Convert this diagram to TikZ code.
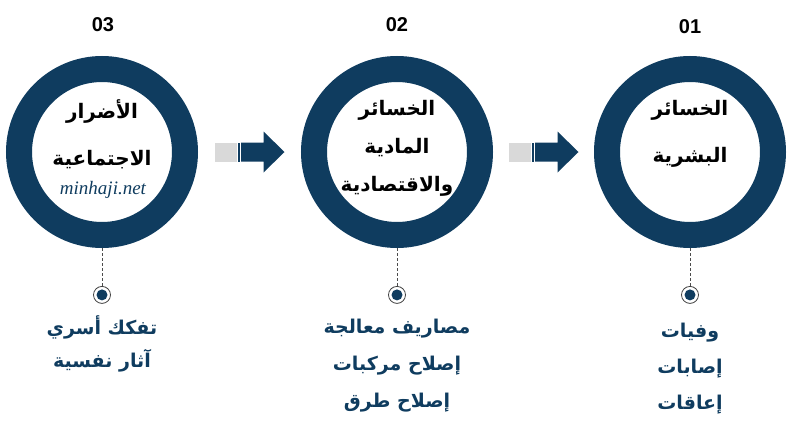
\documentclass[tikz,border=0pt]{standalone}
\usepackage{fontspec}
\setmainfont{Liberation Sans}
\newfontfamily\arabicfont[Script=Arabic]{DejaVu Sans}
\newfontfamily\webfont{Liberation Serif}
\TeXXeTstate=1
\usetikzlibrary{positioning}
\definecolor{ringblue}{HTML}{0F3C5F}
\definecolor{tailgray}{HTML}{D9D9D9}
\newcommand{\rl}[1]{\beginR #1\endR}
\tikzset{
  ring/.style={circle, draw=ringblue, line width=26pt, minimum size=166pt, fill=white, inner sep=0pt},
  stepnum/.style={font=\bfseries\fontsize{20}{24}\selectfont, inner sep=0pt},
  title/.style={font=\arabicfont\bfseries\fontsize{20}{#1}\selectfont, align=center, inner sep=0pt},
  title/.default=47,
  items/.style={font=\arabicfont\bfseries\fontsize{19}{#1}\selectfont, text=ringblue, align=center, inner sep=0pt},
  items/.default=37,
  dot/.style={circle, draw=black!75, line width=0.8pt, minimum size=17pt, inner sep=0pt,
    path picture={\fill[ringblue] (path picture bounding box.center) circle (5.5pt);}},
  stem/.style={black!70, line width=0.6pt, densely dashed}
}
\newcommand{\blockarrow}[1]{%
  \fill[tailgray] ($(#1)+(-35,-9.5)$) rectangle ($(#1)+(-13,9.5)$);
  \fill[ringblue] ($(#1)+(-11.5,-9.5)$) rectangle ($(#1)+(-10,9.5)$);
  \fill[ringblue] ($(#1)+(-8.5,-9.5)$) -- ($(#1)+(14,-9.5)$) -- ($(#1)+(14,-20.5)$)
    -- ($(#1)+(35,0)$) -- ($(#1)+(14,20.5)$) -- ($(#1)+(14,9.5)$) -- ($(#1)+(-8.5,9.5)$) -- cycle;}
\usetikzlibrary{calc}

\begin{document}
\begin{tikzpicture}[x=1pt,y=-1pt]
  \useasboundingbox (0,0) rectangle (788,429);
  % the three rings
  \node[ring] (r3) at (102,152) {};
  \node[ring] (r2) at (397,152) {};
  \node[ring] (r1) at (690,152) {};
  % numbers on top
  \node[stepnum] (n3) at (103,25) {03};
  \node[stepnum] (n2) at (397,25) {02};
  \node[stepnum] (n1) at (690,27) {01};
  % titles inside the rings
  \node[title] (t3) at (102,134) {\rl{الأضرار}\\\rl{الاجتماعية}};
  \node[text=ringblue, font=\webfont\itshape\fontsize{19}{22}\selectfont, inner sep=0pt] (web) at (103,190) {minhaji.net};
  \node[title=38] (t2) at (397,148) {\rl{الخسائر}\\\rl{المادية}\\\rl{والاقتصادية}};
  \node[title] (t1) at (690,134) {\rl{الخسائر}\\\rl{البشرية}};
  % arrows between rings
  \coordinate (a1) at ($(r3.east)!0.5!(r2.west)$);
  \coordinate (a2) at ($(r2.east)!0.5!(r1.west)$);
  \blockarrow{a1}
  \blockarrow{a2}
  % dots and stems
  \node[dot, below=38pt of r3] (d3) {};
  \node[dot, below=38pt of r2] (d2) {};
  \node[dot, below=38pt of r1] (d1) {};
  \draw[stem] (r3.south) -- (d3.north);
  \draw[stem] (r2.south) -- (d2.north);
  \draw[stem] (r1.south) -- (d1.north);
  % items under the dots
  \node[items=33] (i3) at (102,344) {\rl{تفكك أسري}\\\rl{آثار نفسية}};
  \node[items] (i2) at (397,366) {\rl{مصاريف معالجة}\\\rl{إصلاح مركبات}\\\rl{إصلاح طرق}};
  \node[items=36] (i1) at (690,369) {\rl{وفيات}\\\rl{إصابات}\\\rl{إعاقات}};
\end{tikzpicture}
\end{document}
